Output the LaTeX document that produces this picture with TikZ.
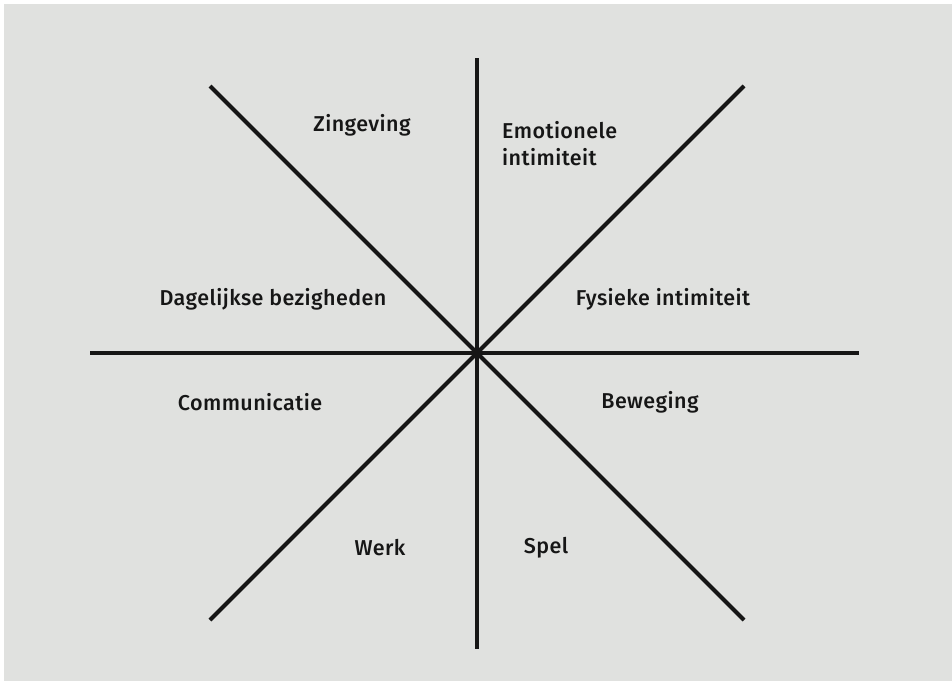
\documentclass[tikz,border=0pt]{standalone}
\usepackage{fontspec}
\setmainfont{Fira Sans}[UprightFont=* Medium,LetterSpace=2]
\definecolor{bg}{HTML}{E0E1DF}
\definecolor{ink}{HTML}{161616}
\begin{document}
\begin{tikzpicture}[x=1pt,y=-1pt,
  axis/.style={line width=4pt,draw=ink},
  lbl/.style={font=\fontsize{21.5}{27}\selectfont,text=ink,inner sep=0pt}]
\useasboundingbox (0,0) rectangle (952,681);
\fill[white] (0,0) rectangle (952,681);
\fill[bg] (4,4) rectangle (952,681);
\coordinate (c) at (477,353);
\coordinate (n) at (477,58);
\coordinate (s) at (477,649);
\coordinate (w) at (90,353);
\coordinate (e) at (859,353);
\coordinate (nw) at (210,86);
\coordinate (se) at (744,620);
\coordinate (ne) at (744,86);
\coordinate (sw) at (210,620);
\draw[axis] (n) -- (s);
\draw[axis] (w) -- (e);
\draw[axis] (nw) -- (se);
\draw[axis] (ne) -- (sw);
\node[lbl] (zin) at (362,125) {Zingeving};
\node[lbl,align=left,anchor=west] (emo) at (502,144) {Emotionele\\intimiteit};
\node[lbl] (dag) at (273,299) {Dagelijkse bezigheden};
\node[lbl] (fys) at (663,299) {Fysieke intimiteit};
\node[lbl] (com) at (250,402) {Communicatie};
\node[lbl] (bew) at (650,402) {Beweging};
\node[lbl] (wer) at (380,548) {Werk};
\node[lbl] (spe) at (546,548) {Spel};
\end{tikzpicture}
\end{document}
